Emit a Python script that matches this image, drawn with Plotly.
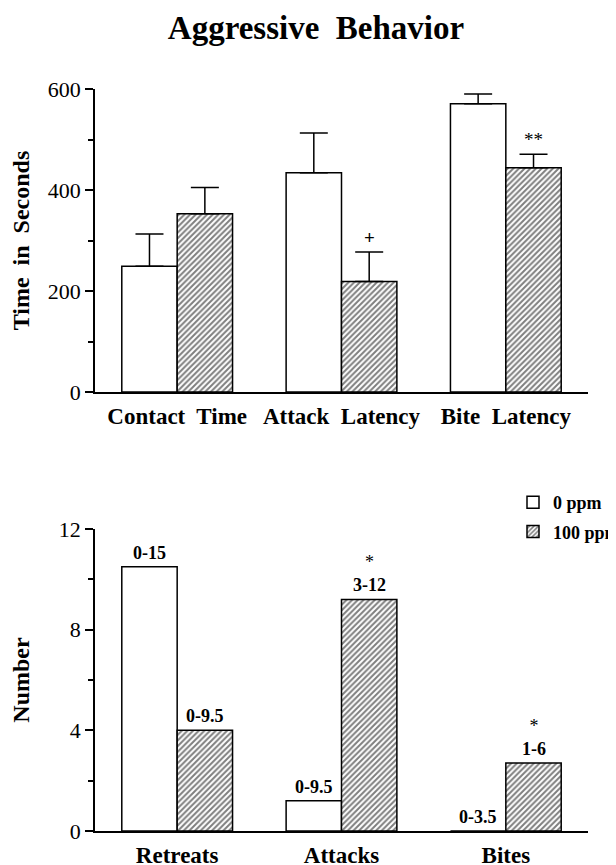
import plotly.graph_objects as go
from plotly.subplots import make_subplots

# ---------------- data ----------------
top_categories = ["Contact\u00a0 Time", "Attack\u00a0 Latency", "Bite\u00a0 Latency"]
time_0ppm = [249, 434, 571]
time_0ppm_err = [64, 79, 19]
time_100ppm = [353, 219, 444]
time_100ppm_err = [52, 58, 27]
top_sig_100ppm = ["", "+", "**"]

bottom_categories = ["Retreats", "Attacks", "Bites"]
number_0ppm = [10.5, 1.2, 0]
number_100ppm = [4.0, 9.2, 2.7]
range_0ppm = ["0-15", "0-9.5", "0-3.5"]
range_100ppm = ["0-9.5", "3-12", "1-6"]
bottom_sig_100ppm = ["", "*", "*"]

series_names = ["0 ppm", "100 ppm"]
top_yticks = [0, 200, 400, 600]
bottom_yticks = [0, 4, 8, 12]

# ---------------- style ----------------
SERIF = "Liberation Serif, Times New Roman, serif"
# the page body has an 8px margin, so the figure is drawn from (8, 8)
W, H = 608, 857
BW = 0.337
hatch = dict(shape="/", fgcolor="black", bgcolor="white", size=4, solidity=0.5)
line = dict(color="black", width=1.5)

fig = make_subplots(rows=2, cols=1)

def err(vals):
    return dict(type="data", array=vals, arrayminus=[0] * len(vals), symmetric=False,
                color="black", thickness=1.5, width=14)

fig.add_trace(go.Bar(x=top_categories, y=time_0ppm, width=BW, offset=-BW,
                     marker=dict(color="white", line=line), error_y=err(time_0ppm_err),
                     name=series_names[0], showlegend=False), row=1, col=1)
fig.add_trace(go.Bar(x=top_categories, y=time_100ppm, width=BW, offset=0,
                     marker=dict(color="white", line=line, pattern=hatch),
                     error_y=err(time_100ppm_err),
                     name=series_names[1], showlegend=False), row=1, col=1)
fig.add_trace(go.Bar(x=bottom_categories, y=number_0ppm, width=BW, offset=-BW,
                     marker=dict(color="white", line=line),
                     name="<b>%s</b>" % series_names[0], legendgroup="a"), row=2, col=1)
fig.add_trace(go.Bar(x=bottom_categories, y=number_100ppm, width=BW, offset=0,
                     marker=dict(color="white", line=line, pattern=hatch),
                     name="<b>%s</b>" % series_names[1], legendgroup="b"), row=2, col=1)

annotations = []
for i, s in enumerate(top_sig_100ppm):
    if s:
        annotations.append(dict(x=i + BW / 2, y=time_100ppm[i] + time_100ppm_err[i],
                                xref="x", yref="y", text="<b>%s</b>" % s if s == "+" else s,
                                showarrow=False, yanchor="bottom", yshift=2,
                                font=dict(family=SERIF, size=19, color="black")))
for i in range(3):
    annotations.append(dict(x=i - BW / 2, y=number_0ppm[i], xref="x2", yref="y2",
                            text="<b>%s</b>" % range_0ppm[i], showarrow=False,
                            yanchor="bottom", yshift=2,
                            font=dict(family=SERIF, size=18, color="black")))
    txt = "<b>%s</b>" % range_100ppm[i]
    if bottom_sig_100ppm[i]:
        txt = bottom_sig_100ppm[i] + "<br>" + txt
    annotations.append(dict(x=i + BW / 2, y=number_100ppm[i], xref="x2", yref="y2",
                            text=txt, showarrow=False, yanchor="bottom", yshift=2,
                            font=dict(family=SERIF, size=18, color="black")))

axis_common = dict(showline=True, linecolor="black", linewidth=1.5, showgrid=False,
                   zeroline=False, automargin=False)
xaxis_style = dict(axis_common, range=[-0.5, 2.5], ticks="", ticklabelstandoff=3,
                   tickfont=dict(family=SERIF, size=23, color="black"),
                   domain=[87 / W, 580 / W])
yaxis_style = dict(axis_common, ticks="outside", ticklen=8, tickwidth=1.5, tickcolor="black",
                   tickfont=dict(family=SERIF, size=22, color="black"))
fig.update_layout(
    width=W, height=H,
    margin=dict(l=0, r=0, t=0, b=0, autoexpand=False),
    paper_bgcolor="white", plot_bgcolor="white",
    title=dict(text="<b>Aggressive\u00a0 Behavior</b>", x=308 / W, xanchor="center",
               y=1 - 19 / H, yanchor="middle",
               font=dict(family=SERIF, size=33, color="black")),
    barmode="overlay",
    showlegend=True,
    legend=dict(x=505 / W, xanchor="left", y=1 - 476 / H, yanchor="top",
                font=dict(family=SERIF, size=18, color="black"),
                tracegroupgap=3, bgcolor="rgba(0,0,0,0)"),
    annotations=annotations,
    xaxis=dict(xaxis_style, tickvals=top_categories,
               ticktext=["<b>%s</b>" % c for c in top_categories]),
    xaxis2=dict(xaxis_style, tickvals=bottom_categories,
                ticktext=["<b>%s</b>" % c for c in bottom_categories]),
    yaxis=dict(yaxis_style, range=[0, 600], tickvals=top_yticks,
               minor=dict(dtick=100, ticks="outside", ticklen=5, tickwidth=1.5, tickcolor="black"),
               title=dict(text="<b>Time\u00a0 in\u00a0 Seconds</b>", standoff=22,
                          font=dict(family=SERIF, size=24, color="black")),
               domain=[1 - 384 / H, 1 - 81 / H]),
    yaxis2=dict(yaxis_style, range=[0, 12], tickvals=bottom_yticks,
                minor=dict(dtick=2, ticks="outside", ticklen=5, tickwidth=1.5, tickcolor="black"),
                title=dict(text="<b>Number</b>", standoff=22,
                           font=dict(family=SERIF, size=24, color="black")),
                domain=[1 - 823 / H, 1 - 521 / H]),
)

fig.write_html("out.html")
